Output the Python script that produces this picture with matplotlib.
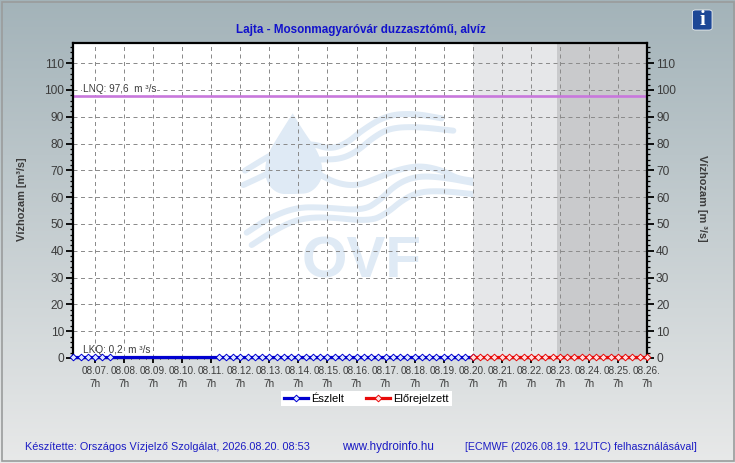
import numpy as np
import matplotlib
matplotlib.use("Agg")
import matplotlib.pyplot as plt
from matplotlib.lines import Line2D
from matplotlib.patches import FancyBboxPatch, Polygon, Rectangle

plt.rcParams['font.family'] = ['Liberation Sans', 'DejaVu Sans']

W, H = 735, 463

# data
title = "Lajta - Mosonmagyaróvár duzzasztómű, alvíz"
day_labels = ["08.07.", "08.08.", "08.09.", "08.10.", "08.11.", "08.12.", "08.13.", "08.14.", "08.15.", "08.16.",
              "08.17.", "08.18.", "08.19.", "08.20.", "08.21.", "08.22.", "08.23.", "08.24.", "08.25.", "08.26."]
y_ticks = [0, 10, 20, 30, 40, 50, 60, 70, 80, 90, 100, 110]
lnq_value = 97.6
lkq_value = 0.2
obs_values = [0.2, 0.2, 0.2, 0.2, 0.2, 0.2, 0.2, 0.2, 0.2, 0.2, 0.2, 0.2, 0.2, 0.2,
              0.2, 0.2, 0.2, 0.2, 0.2, 0.2, 0.2, 0.2, 0.2, 0.2, 0.2, 0.2, 0.2, 0.2,
              0.2, 0.2, 0.2, 0.2, 0.2, 0.2, 0.2, 0.2, 0.2, 0.2, 0.2, 0.2, 0.2, 0.2,
              0.2, 0.2, 0.2, 0.2, 0.2, 0.2, 0.2, 0.2, 0.2, 0.2, 0.2, 0.2, 0.2, 0.2]
fc_values = [0.2, 0.2, 0.2, 0.2, 0.2, 0.2, 0.2, 0.2, 0.2, 0.2, 0.2, 0.2, 0.2,
             0.2, 0.2, 0.2, 0.2, 0.2, 0.2, 0.2, 0.2, 0.2, 0.2, 0.2, 0.2]
obs_days = -0.75 + 0.25 * np.arange(len(obs_values))
fc_days = 13 + 0.25 * np.arange(len(fc_values))
# no markers on the stretch up to 08.11.
obs_marked = list(range(0, 6)) + list(range(20, len(obs_values)))

GREY_TXT = "#3c3c3c"
BLUE_TXT = "#1c1cc4"
OBS = dict(color="#0000d0", lw=2.3, marker="D", ms=3.4, mfc="#dfe8ff", mec="#0000d0", mew=0.7)
FC = dict(color="#e80a0a", lw=2.3, marker="D", ms=3.4, mfc="#ffe0e0", mec="#e80a0a", mew=0.7)


def px(x, y):
    return x / W, 1 - y / H


def smooth(pts, n=3):
    # chaikin corner cutting, points are given in 3x zoom coords
    pts = np.array(pts, dtype=float)
    for _ in range(n):
        q = 0.75 * pts[:-1] + 0.25 * pts[1:]
        r = 0.25 * pts[:-1] + 0.75 * pts[1:]
        mid = np.empty((len(q) * 2, 2))
        mid[0::2] = q
        mid[1::2] = r
        pts = np.vstack([pts[0], mid, pts[-1]])
    return pts


fig = plt.figure(figsize=(W / 100, H / 100), dpi=100)

# background gradient and border
bg = fig.add_axes([0, 0, 1, 1], zorder=0)
grad = np.linspace(0, 1, 256).reshape(-1, 1)
c_top = np.array([0xa3, 0xb3, 0xb9]) / 255
c_bot = np.array([0xe8, 0xe9, 0xe9]) / 255
img = c_top + (c_bot - c_top) * grad[..., None]
bg.imshow(img, aspect="auto", extent=[0, 1, 0, 1], origin="upper")
bg.set_axis_off()
bg.add_patch(Rectangle((1.5 / W, 2.0 / H), (W - 3) / W, (H - 3.5) / H, transform=bg.transAxes,
                       fill=False, edgecolor="#9a9c9c", lw=1.2))

left, right, top, bottom = 73, 647, 43, 358
ax = fig.add_axes([left / W, 1 - bottom / H, (right - left) / W, (bottom - top) / H], zorder=1)
ax.set_facecolor("white")
ax.set_xlim(-0.76, 19)
ax.set_ylim(0, 117.5)
ax.set_axisbelow(True)

# forecast bands
ax.axvspan(13, 15.9, color="#e6e7e9", lw=0, zorder=0.4)
ax.axvspan(15.9, 19, color="#c9cacc", lw=0, zorder=0.4)

# OVF watermark
LOGO = "#dfeaf5"
waves = [
    [(45, 212), (110, 172), (170, 140), (245, 130), (300, 148), (350, 130), (400, 88), (470, 46), (550, 40), (635, 55)],
    [(40, 255), (105, 225), (170, 190), (265, 178), (330, 178), (380, 155), (430, 112), (480, 84), (560, 80), (670, 92)],
    [(265, 222), (320, 250), (380, 258), (440, 235), (500, 210), (570, 196), (640, 212), (680, 235), (735, 243)],
    [(50, 398), (120, 352), (200, 322), (280, 322), (400, 332), (450, 300), (500, 252), (560, 228), (640, 232), (735, 250)],
    [(65, 435), (130, 393), (200, 358), (280, 350), (420, 364), (470, 340), (520, 298), (570, 275), (640, 273), (735, 283)],
]
for w in waves:
    s = smooth(w)
    xs = (230 + s[:, 0] / 3) / W
    ys = 1 - (100 + s[:, 1] / 3) / H
    ax.add_line(Line2D(xs, ys, transform=fig.transFigure, color=LOGO, lw=4.3,
                       solid_capstyle="round", zorder=0.3))
drop_l = smooth([(188, 40), (150, 100), (108, 170), (104, 240), (140, 282), (190, 282)])
drop_r = smooth([(190, 282), (245, 280), (282, 230), (268, 160), (225, 100), (188, 40)])
drop = np.vstack([drop_l, drop_r])
ax.add_patch(Polygon(np.column_stack([(230 + drop[:, 0] / 3) / W, 1 - (100 + drop[:, 1] / 3) / H]),
                     closed=True, transform=fig.transFigure, facecolor=LOGO, edgecolor="none", zorder=0.3))
ax.text(362 / W, 1 - 278 / H, "OVF", transform=fig.transFigure, ha="center", va="baseline",
        fontsize=42, fontweight="bold", color=LOGO, zorder=0.3, clip_on=True)

# axes and grid
ax.set_xticks(np.arange(len(day_labels)))
ax.set_xticklabels([d + "\n7h" for d in day_labels], fontsize=7.2, color=GREY_TXT, linespacing=1.4)
ax.set_xticks(np.arange(-0.75, 19, 0.25), minor=True)
ax.set_yticks(y_ticks)
ax.set_yticks(np.arange(0, 117, 2), minor=True)
ax.tick_params(axis="y", which="major", length=5, width=1.3, labelsize=8.6, labelcolor=GREY_TXT, pad=1.5,
               left=True, right=True, labelleft=True, labelright=True)
ax.tick_params(axis="y", which="minor", length=2.5, width=0.9, left=True, right=True)
ax.tick_params(axis="x", which="major", length=3.5, width=1.3, pad=2.2)
ax.tick_params(axis="x", which="minor", length=1, width=0.6)
ax.grid(True, which="major", color="#8c8c8c", lw=0.72, ls=(0, (4, 3.5)))
for s in ax.spines.values():
    s.set_linewidth(1.6)
    s.set_zorder(3)

# reference lines
ax.axhline(lnq_value, color="#c878dc", lw=1.9, zorder=2)
bbox = dict(facecolor="white", edgecolor="none", pad=0.6)
ax.text(83 / W, 1 - 89 / H, "LNQ: 97,6  m ³/s", transform=fig.transFigure, fontsize=7.2, color=GREY_TXT,
        va="center", ha="left", bbox=bbox, zorder=1.8)
ax.text(83 / W, 1 - 350 / H, "LKQ: 0,2  m ³/s", transform=fig.transFigure, fontsize=7.2, color=GREY_TXT,
        va="center", ha="left", zorder=1.8)

# series
ax.plot(obs_days, obs_values, markevery=obs_marked, clip_on=False, zorder=4, **OBS)
ax.plot(fc_days, fc_values, clip_on=False, zorder=4, **FC)

# titles and axis labels
fig.text(*px(361, 30.5), title, ha="center", va="center", fontsize=8.4, fontweight="bold", color="#1212cc")
fig.text(*px(22, 199), "Vízhozam [m³/s]", rotation=90, ha="center", va="center", fontsize=7.9,
         fontweight="bold", color=GREY_TXT)
fig.text(*px(702, 198), "Vízhozam [m ³/s]", rotation=-90, ha="center", va="center", fontsize=7.9,
         fontweight="bold", color=GREY_TXT)

# legend
leg_handles = [Line2D([], [], **OBS), Line2D([], [], **FC)]
fig.legend(leg_handles, ["Észlelt", "Előrejelzett"], loc="center", bbox_to_anchor=px(366.5, 398.5), ncol=2,
           fontsize=8, frameon=True, facecolor="white", edgecolor="none", fancybox=False, framealpha=1,
           borderpad=0.25, handlelength=2.15, handletextpad=0.3, columnspacing=2.0, labelcolor="black",
           borderaxespad=0)

# footer
fig.text(*px(25, 447), "Készítette: Országos Vízjelző Szolgálat, 2026.08.20. 08:53", va="center", fontsize=7.83, color=BLUE_TXT)
fig.text(*px(342, 447), "www.hydroinfo.hu", va="center", fontsize=8.4, color=BLUE_TXT)
fig.text(*px(465, 447), "[ECMWF (2026.08.19. 12UTC) felhasználásával]", va="center", fontsize=7.67, color=BLUE_TXT)

# info icon
x0, y0 = px(692.5, 30)
fig.add_artist(FancyBboxPatch((x0, y0), 19.5 / W, 20 / H, transform=fig.transFigure,
                              boxstyle="round,pad=0,rounding_size=0.004", facecolor="#1d4796",
                              edgecolor="white", lw=0.5))
fig.text(*px(702.5, 20), "i", family="Liberation Serif", fontweight="bold", fontsize=15, color="white",
         ha="center", va="center")

fig.savefig("out.png", dpi=100)
